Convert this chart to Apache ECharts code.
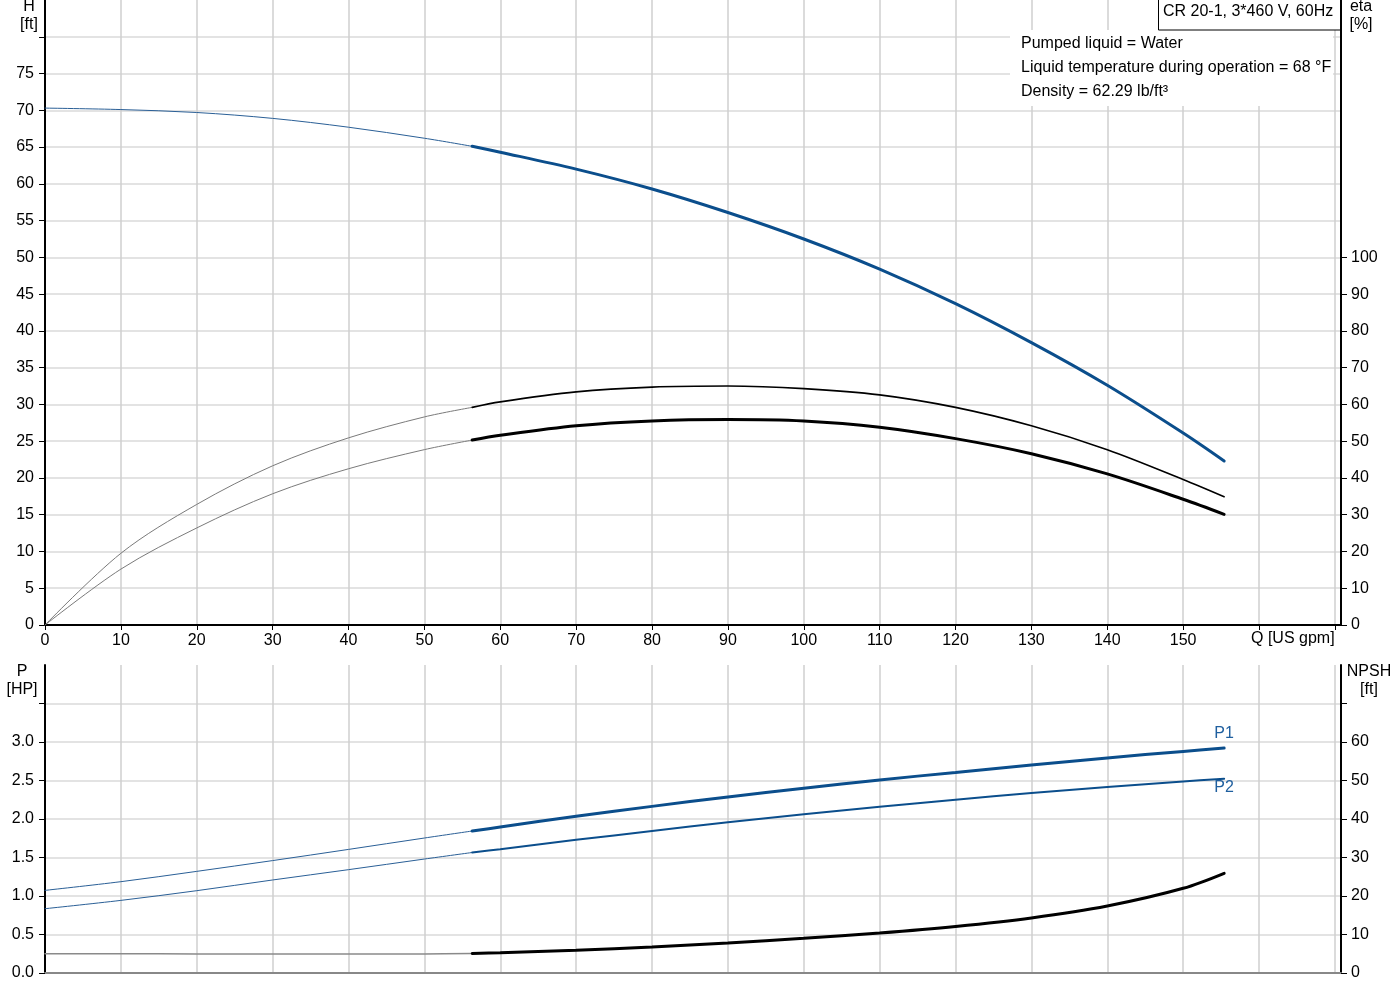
<!DOCTYPE html>
<html>
<head>
<meta charset="utf-8">
<script src="https://cdn.jsdelivr.net/npm/echarts@6/dist/echarts.min.js"></script>
<style>
html,body{margin:0;padding:0;background:#fff;}
#c{width:1400px;height:1000px;}
</style>
</head>
<body>
<div id="c"></div>
<script>
// ---- data ----
const Q_LOW  = [0, 10, 20, 30, 40, 50, 56.3];
const Q_HIGH = [56.3, 60, 70, 80, 90, 100, 110, 120, 130, 140, 150, 155.4];

const H_LOW  = [70.3, 70.1, 69.7, 68.9, 67.7, 66.2, 65.1];
const H_HIGH = [65.1, 64.3, 62.0, 59.3, 56.1, 52.5, 48.4, 43.7, 38.4, 32.6, 26.1, 22.3];

const ETA1_LOW  = [0, 19.5, 32.8, 43.3, 50.9, 56.6, 59.2];
const ETA1_HIGH = [59.2, 60.7, 63.4, 64.7, 65.0, 64.3, 62.6, 59.2, 54.2, 47.7, 39.6, 34.9];

const ETA2_LOW  = [0, 15.2, 26.4, 35.7, 42.5, 47.7, 50.3];
const ETA2_HIGH = [50.3, 51.6, 54.2, 55.5, 55.9, 55.5, 53.8, 50.7, 46.6, 41.1, 34.2, 30.1];

const P1_LOW  = [1.073, 1.186, 1.32, 1.46, 1.605, 1.753, 1.844];
const P1_HIGH = [1.844, 1.896, 2.035, 2.164, 2.286, 2.400, 2.508, 2.604, 2.70, 2.793, 2.878, 2.922];

const P2_LOW  = [0.835, 0.943, 1.069, 1.208, 1.342, 1.48, 1.565];
const P2_HIGH = [1.565, 1.608, 1.729, 1.844, 1.957, 2.061, 2.16, 2.25, 2.338, 2.416, 2.488, 2.523];

const NPSH_LOW  = [5.0, 5.0, 4.95, 4.95, 4.95, 4.95, 5.05];
const NPSH_HIGH = [5.05, 5.25, 5.9, 6.75, 7.8, 9.0, 10.4, 12.1, 14.3, 17.4, 22.0, 25.9];

// tick labels
const X_LABELS    = [0,10,20,30,40,50,60,70,80,90,100,110,120,130,140,150];
const X_TICKS     = [0,10,20,30,40,50,60,70,80,90,100,110,120,130,140,150,160,170];
const H_LABELS    = [0,5,10,15,20,25,30,35,40,45,50,55,60,65,70,75];
const H_TICKS     = [0,5,10,15,20,25,30,35,40,45,50,55,60,65,70,75,80];
const ETA_LABELS  = [0,10,20,30,40,50,60,70,80,90,100];
const P_LABELS    = [0,0.5,1.0,1.5,2.0,2.5,3.0];
const P_TICKS     = [0,0.5,1.0,1.5,2.0,2.5,3.0,3.5];
const NPSH_LABELS = [0,10,20,30,40,50,60];
const NPSH_TICKS  = [0,10,20,30,40,50,60,70];

const TITLE = 'CR 20-1, 3*460 V, 60Hz';
const INFO = ['Pumped liquid = Water', 'Liquid temperature during operation = 68 °F', 'Density = 62.29 lb/ft³'];

// ---- styling ----
const FONT = '"Liberation Sans", Arial, sans-serif';
const FS = 16;
const BLUE = '#0b4e8c';
const GRIDC = '#dadada';
const VGRIDC = '#cfcfcf';

function pts(q, v) { return q.map((x, i) => [x, v[i]]); }

const chart = echarts.init(document.getElementById('c'), null, {renderer: 'canvas'});

function xAxisCfg(idx, showLabels, lineColor) {
  return {
    type: 'value', gridIndex: idx, min: 0, max: 170.8, interval: 10,
    axisLine: {show: true, onZero: false, lineStyle: {color: lineColor, width: 2}},
    axisTick: {show: showLabels, length: 5, lineStyle: {color: '#000', width: 1}, customValues: X_TICKS},
    axisLabel: {show: showLabels, color: '#000', fontSize: FS, fontFamily: FONT, margin: 8, customValues: X_LABELS},
    splitLine: {show: true, lineStyle: {color: VGRIDC, width: 1.5}}
  };
}

function yAxisCfg(idx, pos, min, max, interval, labels, ticks, fmt, split) {
  return {
    type: 'value', gridIndex: idx, position: pos, min: min, max: max, interval: interval,
    axisLine: {show: true, onZero: false, lineStyle: {color: '#000', width: 2}},
    axisTick: {show: true, length: 6, lineStyle: {color: '#000', width: 1}, customValues: ticks},
    axisLabel: {show: true, color: '#000', fontSize: FS, fontFamily: FONT, margin: pos === 'left' ? 11 : 10,
                customValues: labels, formatter: fmt},
    splitLine: {show: split, lineStyle: {color: GRIDC, width: 1.5}}
  };
}

function line(xi, yi, q, v, color, width, z) {
  return {
    type: 'line', xAxisIndex: xi, yAxisIndex: yi, data: pts(q, v),
    smooth: 0.33, symbol: 'none', z: z || 3,
    lineStyle: {color: color, width: width, cap: 'round'}
  };
}

const p1Thick = line(1, 2, Q_HIGH, P1_HIGH, BLUE, 3);
p1Thick.markPoint = {
  symbol: 'circle', symbolSize: 1, itemStyle: {color: 'rgba(0,0,0,0)'},
  label: {show: true, position: 'top', distance: 6, formatter: 'P1', color: '#1f5f9f', fontSize: FS, fontFamily: FONT},
  data: [{coord: [Q_HIGH[Q_HIGH.length - 1], P1_HIGH[P1_HIGH.length - 1]]}]
};
const p2Thick = line(1, 2, Q_HIGH, P2_HIGH, BLUE, 2);
p2Thick.markPoint = {
  symbol: 'circle', symbolSize: 1, itemStyle: {color: 'rgba(0,0,0,0)'},
  label: {show: true, position: 'bottom', distance: 0, formatter: 'P2', color: '#1f5f9f', fontSize: FS, fontFamily: FONT},
  data: [{coord: [Q_HIGH[Q_HIGH.length - 1], P2_HIGH[P2_HIGH.length - 1]]}]
};

function txt(x, y, text, align) {
  return {
    type: 'text', x: x, y: y, z: 100,
    style: {text: text, font: FS + 'px ' + FONT, fill: '#000',
            align: align, textAlign: align, verticalAlign: 'middle', textVerticalAlign: 'middle',
            lineHeight: 18}
  };
}

const option = {
  animation: false,
  backgroundColor: '#fff',
  grid: [
    {left: 45, right: 59, top: 0, bottom: 375, containLabel: false, outerBoundsMode: 'none'},
    {left: 45, right: 59, top: 665, bottom: 27, containLabel: false, outerBoundsMode: 'none'}
  ],
  xAxis: [xAxisCfg(0, true, '#000'), xAxisCfg(1, false, '#888')],
  yAxis: [
    yAxisCfg(0, 'left', 0, 85, 5, H_LABELS, H_TICKS, v => String(v), true),
    yAxisCfg(0, 'right', 0, 170, 10, ETA_LABELS, ETA_LABELS, v => String(v), false),
    yAxisCfg(1, 'left', 0, 4, 0.5, P_LABELS, P_TICKS, v => v.toFixed(1), true),
    yAxisCfg(1, 'right', 0, 80, 10, NPSH_LABELS, NPSH_TICKS, v => String(v), false)
  ],
  series: [
    line(0, 0, Q_LOW, H_LOW, '#2a5f96', 1),
    line(0, 0, Q_HIGH, H_HIGH, BLUE, 3),
    line(0, 1, Q_LOW, ETA1_LOW, '#7a7a7a', 1),
    line(0, 1, Q_HIGH, ETA1_HIGH, '#000', 1.6),
    line(0, 1, Q_LOW, ETA2_LOW, '#7a7a7a', 1),
    line(0, 1, Q_HIGH, ETA2_HIGH, '#000', 3),
    line(1, 2, Q_LOW, P1_LOW, '#2a5f96', 1),
    p1Thick,
    line(1, 2, Q_LOW, P2_LOW, '#2a5f96', 1),
    p2Thick,
    line(1, 3, Q_LOW, NPSH_LOW, '#8a8a8a', 1.5),
    line(1, 3, Q_HIGH, NPSH_HIGH, '#000', 3)
  ],
  graphic: [
    {type: 'rect', z: 90, shape: {x: 1010, y: 30, width: 323, height: 76}, style: {fill: '#fff'}},
    {type: 'rect', z: 95, shape: {x: 1158.5, y: -1, width: 182, height: 31}, style: {fill: '#fff', stroke: '#000', lineWidth: 1}},
    txt(1163, 12, TITLE, 'left'),
    txt(1021, 44, INFO[0], 'left'),
    txt(1021, 68, INFO[1], 'left'),
    txt(1021, 92, INFO[2], 'left'),
    txt(29, 16, 'H\n[ft]', 'center'),
    txt(1361, 16, 'eta\n[%]', 'center'),
    txt(22, 681, 'P\n[HP]', 'center'),
    txt(1369, 681, 'NPSH\n[ft]', 'center'),
    txt(1251, 639, 'Q [US gpm]', 'left')
  ]
};
chart.setOption(option);
</script>
</body>
</html>
